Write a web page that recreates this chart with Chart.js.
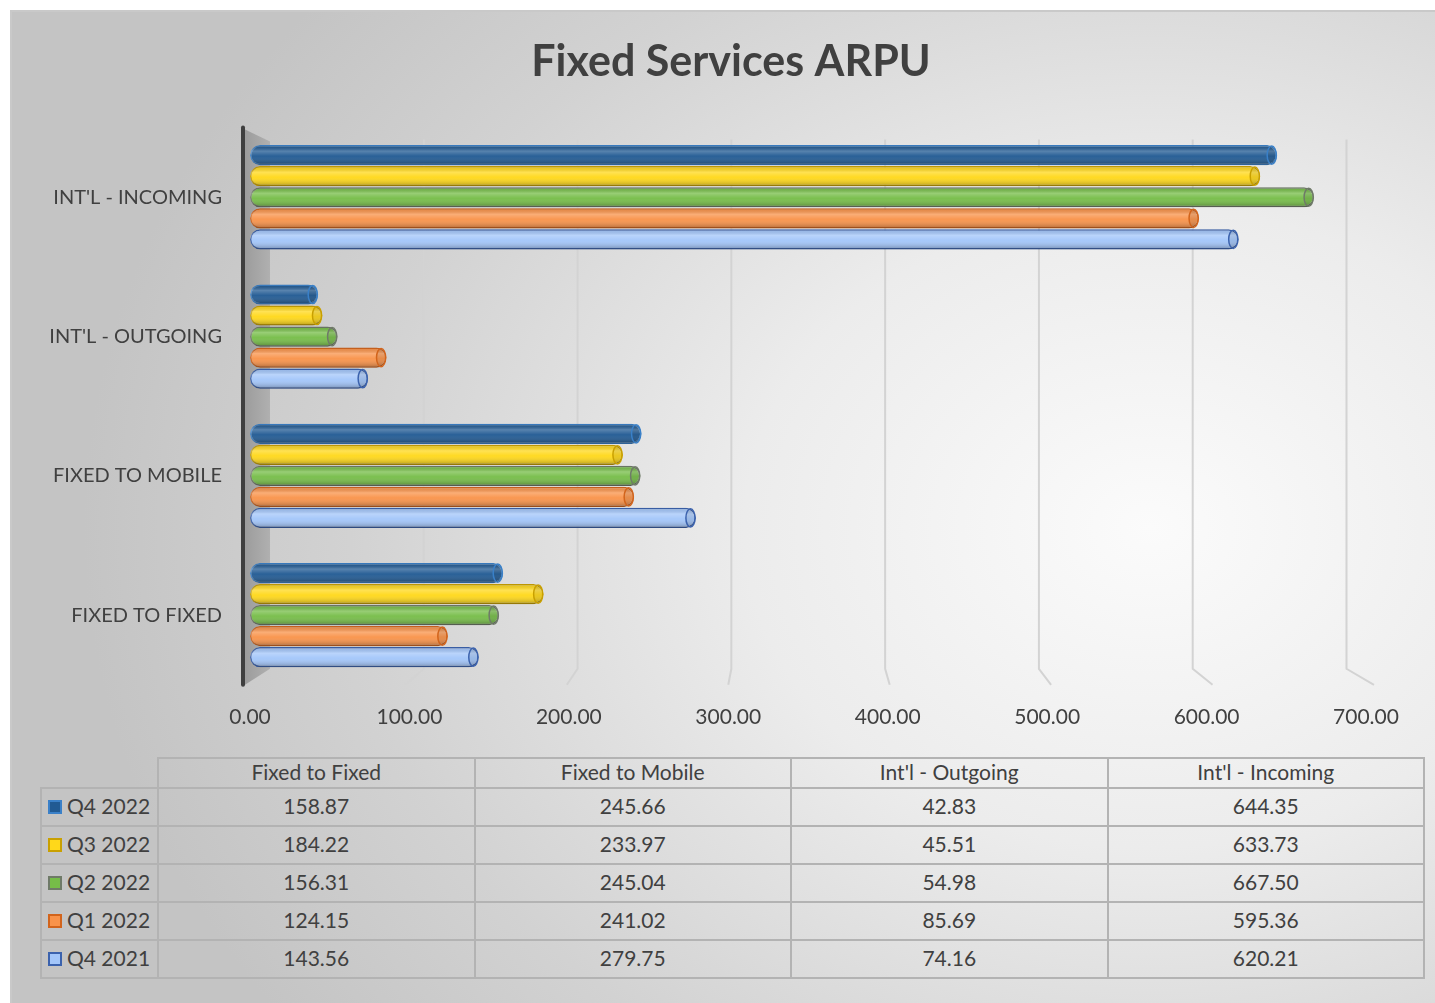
<!DOCTYPE html>
<html>
<head>
<meta charset="utf-8">
<title>Fixed Services ARPU</title>
<script src="https://cdn.jsdelivr.net/npm/chart.js@4.4.1/dist/chart.umd.min.js"></script>
<style>
  body { margin: 0; background: #fff; font-family: Lato, "Noto Sans", sans-serif; }
  #card {
    position: absolute; left: 10px; top: 10px; width: 1425px; height: 993px;
    box-sizing: border-box; border-top: 2px solid #c9c9c9; border-left: 2px solid #c9c9c9;
    background: radial-gradient(ellipse 75% 85% at 80% 52%, #fbfbfb 0%, #ececec 38%, #d2d2d2 75%, #c4c4c4 100%);
  }
  #chartBox { position: absolute; left: 10px; top: 10px; width: 1425px; height: 740px; }
  #dataTable {
    position: absolute; left: 40px; top: 757px;
    border-collapse: collapse; color: #404040; font-size: 21px; table-layout: fixed;
  }
  #dataTable td, #dataTable th {
    border: 2px solid #b3b3b3; text-align: center; font-weight: normal; padding: 0; white-space: nowrap;
  }
  #dataTable th { height: 26px; line-height: 24px; padding-bottom: 2px; }
  #dataTable td { height: 33px; line-height: 31px; padding-bottom: 3px; }
  #dataTable th.blank { border-top: none; border-left: none; }
  #dataTable td.name { text-align: left; padding-left: 6px; }
  .key { display: inline-block; width: 10px; height: 10px; border: 2px solid; margin-right: 5px; vertical-align: 0px; }
</style>
</head>
<body>
<div id="card"></div>
<div id="chartBox"><canvas id="arpuChart" width="1425" height="740"></canvas></div>
<table id="dataTable"></table>

<script>
// values as printed in the data table under the chart
const categories = ['Fixed to Fixed', 'Fixed to Mobile', "Int'l - Outgoing", "Int'l - Incoming"];
const seriesNames = ['Q4 2022', 'Q3 2022', 'Q2 2022', 'Q1 2022', 'Q4 2021'];
const q4_2022 = [158.87, 245.66, 42.83, 644.35];
const q3_2022 = [184.22, 233.97, 45.51, 633.73];
const q2_2022 = [156.31, 245.04, 54.98, 667.50];
const q1_2022 = [124.15, 241.02, 85.69, 595.36];
const q4_2021 = [143.56, 279.75, 74.16, 620.21];
const xTickMin = 0;
const xTickMax = 700;
const xTickStep = 100;

const seriesValues = [q4_2022, q3_2022, q2_2022, q1_2022, q4_2021];
const fillColors = ['#215a93', '#ffd81a', '#76bd48', '#f9934a', '#a3c6fa'];
const edgeColors = ['#3a80c8', '#c9a000', '#6f7a68', '#d2641c', '#3b62ad'];

// chart lists categories top-down in reverse of the table order
const chartLabels = categories.slice().reverse().map(c => c.toUpperCase());

// grey side wall + perspective gridlines (Excel 3D look)
const wallPlugin = {
    id: 'wall',
    beforeDatasetsDraw(chart) {
        const { ctx, chartArea } = chart;
        const xs = chart.scales.x;
        const L = chartArea.left, T = chartArea.top, B = chartArea.bottom;
        ctx.save();
        // gridlines
        ctx.strokeStyle = '#d3d3d3';
        ctx.lineWidth = 2;
        xs.ticks.forEach(t => {
            if (t.value === 0) return;
            const px = xs.getPixelForValue(t.value);
            const back = L + 20 + (px - L) * 0.9646;
            const front = L - 6 + (px - L) * 1.0125;
            ctx.beginPath();
            ctx.moveTo(back, T + 12);
            ctx.lineTo(back, B - 16);
            ctx.lineTo(front, B);
            ctx.stroke();
        });
        // wall
        const g = ctx.createLinearGradient(L - 5, 0, L + 20, 0);
        g.addColorStop(0, '#9c9c9c');
        g.addColorStop(1, '#b0b0b0');
        ctx.fillStyle = g;
        ctx.beginPath();
        ctx.moveTo(L - 5, T + 2);
        ctx.lineTo(L + 20, T + 14);
        ctx.lineTo(L + 20, B - 16);
        ctx.lineTo(L - 5, B);
        ctx.closePath();
        ctx.fill();
        // axis line
        ctx.strokeStyle = '#3f3f3f';
        ctx.lineWidth = 4;
        ctx.lineCap = 'round';
        ctx.beginPath();
        ctx.moveTo(L - 7, T);
        ctx.lineTo(L - 7, B);
        ctx.stroke();
        ctx.restore();
    }
};

// shading on each bar so it reads like a cylinder
const cylinderPlugin = {
    id: 'cylinder',
    afterDatasetsDraw(chart) {
        const ctx = chart.ctx;
        chart.data.datasets.forEach((ds, di) => {
            const meta = chart.getDatasetMeta(di);
            if (meta.hidden) return;
            meta.data.forEach(bar => {
                const { x, y, base, height } = bar.getProps(['x', 'y', 'base', 'height'], true);
                const h = height, r = h / 2;
                const top = y - r;
                ctx.save();
                ctx.beginPath();
                ctx.roundRect(base, top, x - base, h, r);
                ctx.clip();
                const g = ctx.createLinearGradient(0, top, 0, top + h);
                g.addColorStop(0, 'rgba(0,0,0,0.05)');
                g.addColorStop(0.3, 'rgba(255,255,255,0.25)');
                g.addColorStop(0.55, 'rgba(255,255,255,0.04)');
                g.addColorStop(1, 'rgba(0,0,0,0.30)');
                ctx.fillStyle = g;
                ctx.fillRect(base, top, x - base, h);
                ctx.restore();
                // end face
                ctx.save();
                ctx.beginPath();
                ctx.ellipse(x - r * 0.55, y, r * 0.45, r - 1, 0, 0, Math.PI * 2);
                ctx.fillStyle = 'rgba(0,0,0,0.08)';
                ctx.fill();
                ctx.strokeStyle = edgeColors[di];
                ctx.lineWidth = 1.5;
                ctx.stroke();
                ctx.restore();
            });
        });
    }
};

const ctx = document.getElementById('arpuChart').getContext('2d');
const arpuChart = new Chart(ctx, {
    type: 'bar',
    data: {
        labels: chartLabels,
        datasets: seriesNames.map((name, i) => ({
            label: name,
            data: seriesValues[i].slice().reverse(),
            backgroundColor: fillColors[i],
            borderColor: edgeColors[i],
            borderWidth: 1.5,
            borderRadius: 10,
            borderSkipped: false,
            categoryPercentage: 0.755,
            barPercentage: 0.96
        }))
    },
    options: {
        indexAxis: 'y',
        responsive: false,
        animation: false,
        layout: { padding: { left: 17, right: 0, top: 0, bottom: 0 } },
        plugins: {
            legend: { display: false },
            tooltip: { enabled: false },
            title: {
                display: true,
                text: 'Fixed Services ARPU',
                color: '#404040',
                font: { family: 'Lato', size: 43, weight: 'bold', lineHeight: 1.2 },
                padding: { top: 26, bottom: 40 }
            }
        },
        scales: {
            x: {
                min: xTickMin,
                max: xTickMax,
                grid: { display: false, drawTicks: false },
                border: { display: false },
                ticks: {
                    stepSize: xTickStep,
                    color: '#404040',
                    padding: 20,
                    font: { family: 'Lato', size: 21 },
                    callback: v => Number(v).toFixed(2)
                }
            },
            y: {
                grid: { display: false, drawTicks: false },
                border: { display: false },
                ticks: {
                    color: '#404040',
                    padding: 28,
                    font: { family: 'Lato', size: 20 }
                },
                afterFit: axis => { axis.width = 223; }
            },
            // empty spacer on the right so the plot ends where the original does
            yRight: {
                type: 'linear',
                position: 'right',
                grid: { display: false, drawTicks: false },
                border: { display: false },
                ticks: { display: false },
                afterFit: axis => { axis.width = 69; }
            }
        }
    },
    plugins: [wallPlugin, cylinderPlugin]
});

// data table under the chart
function buildTable() {
    const table = document.getElementById('dataTable');
    let html = '<colgroup><col style="width:117px">' +
        categories.map(() => '<col style="width:316.5px">').join('') + '</colgroup>';
    html += '<tr><th class="blank"></th>' + categories.map(c => `<th>${c}</th>`).join('') + '</tr>';
    seriesNames.forEach((name, i) => {
        html += `<tr><td class="name"><span class="key" style="background:${fillColors[i]};border-color:${edgeColors[i]}"></span>${name}</td>`;
        html += seriesValues[i].map(v => `<td>${v.toFixed(2)}</td>`).join('') + '</tr>';
    });
    table.innerHTML = html;
}
buildTable();
</script>
</body>
</html>
